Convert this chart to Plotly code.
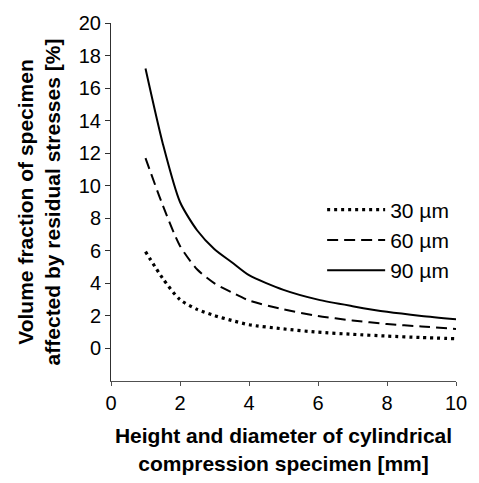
import plotly.graph_objects as go

x_vals = [1, 1.5, 2, 2.5, 3, 3.5, 4, 5, 6, 7, 8, 9, 10]
y_30 = [5.95, 4.3, 3.0, 2.4, 2.02, 1.72, 1.46, 1.2, 1.0, 0.87, 0.76, 0.67, 0.6]
y_60 = [11.7, 8.8, 6.3, 4.85, 4.0, 3.45, 2.95, 2.4, 2.0, 1.72, 1.5, 1.35, 1.2]
y_90 = [17.2, 12.6, 9.0, 7.25, 6.1, 5.3, 4.5, 3.6, 3.0, 2.6, 2.25, 2.0, 1.8]
series_names = ["30 µm", "60 µm", "90 µm"]
x_ticks = [0, 2, 4, 6, 8, 10]
y_ticks = [0, 2, 4, 6, 8, 10, 12, 14, 16, 18, 20]

FONT = "Liberation Sans, Arial, sans-serif"

fig = go.Figure()
fig.add_trace(go.Scatter(x=x_vals, y=y_30, name=series_names[0], mode="lines",
                         line=dict(color="black", width=3.2, dash="3px,4px", shape="spline", smoothing=0.7)))
fig.add_trace(go.Scatter(x=x_vals, y=y_60, name=series_names[1], mode="lines",
                         line=dict(color="black", width=2, dash="11px,6px", shape="spline", smoothing=0.7)))
fig.add_trace(go.Scatter(x=x_vals, y=y_90, name=series_names[2], mode="lines",
                         line=dict(color="black", width=2, shape="spline", smoothing=0.7)))

fig.update_layout(
    width=479, height=483,
    margin=dict(l=111, r=13, t=19, b=97),
    paper_bgcolor="white", plot_bgcolor="white",
    font=dict(family=FONT, size=20, color="black"),
    showlegend=True,
    legend=dict(x=0.612, y=0.535, xanchor="left", yanchor="top",
                font=dict(size=21, family=FONT, color="black"),
                itemwidth=58, tracegroupgap=0, bgcolor="rgba(0,0,0,0)",
                traceorder="normal"),
)
fig.update_xaxes(range=[0, 10], tickvals=x_ticks, showgrid=False, zeroline=False,
                 showline=True, linecolor="#505050", linewidth=1,
                 ticks="outside", ticklen=4, tickcolor="#505050",
                 tickfont=dict(size=20, family=FONT),
                 title=dict(text="<b>Height and diameter of cylindrical<br>compression specimen [mm]</b>",
                            font=dict(size=21, family=FONT), standoff=15))
fig.update_yaxes(range=[-2, 20], tickvals=y_ticks, showgrid=False, zeroline=False,
                 showline=True, linecolor="#303030", linewidth=1,
                 ticks="outside", ticklen=5, tickcolor="#303030",
                 tickfont=dict(size=20, family=FONT),
                 title=dict(text="<b>Volume fraction of specimen<br>affected by residual stresses [%]</b>",
                            font=dict(size=21, family=FONT), standoff=12))

fig.write_html("out.html")
